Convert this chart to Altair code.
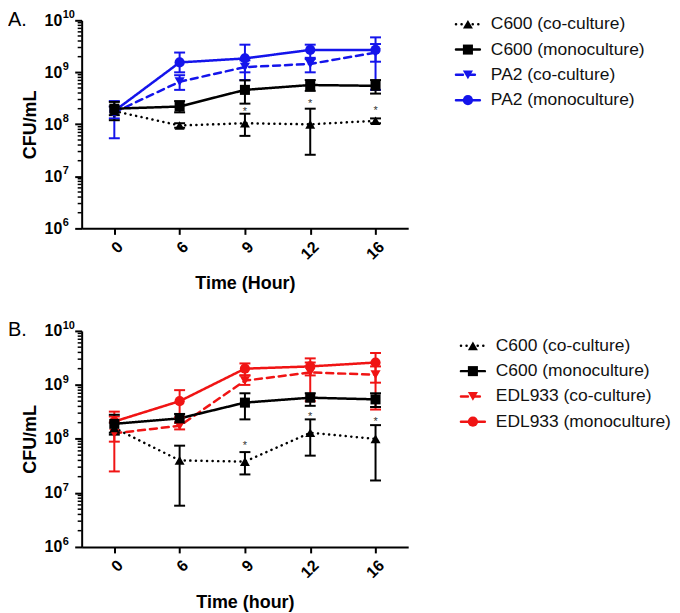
import altair as alt
import pandas as pd

FONT = "Liberation Sans"
times = ["0", "6", "9", "12", "16"]

# ---------------- Panel A ----------------
a_series = ["C600 (co-culture)", "C600 (monoculture)", "PA2 (co-culture)", "PA2 (monoculture)"]
a_c600_co_mean = [1.8e8, 9.5e7, 1.05e8, 1.0e8, 1.17e8]
a_c600_co_lo = [1.5e8, 8.6e7, 6.0e7, 2.6e7, 1.05e8]
a_c600_co_hi = [2.2e8, 1.05e8, 1.6e8, 2.0e8, 1.3e8]
a_c600_mono_mean = [2.0e8, 2.2e8, 4.6e8, 5.7e8, 5.5e8]
a_c600_mono_lo = [1.2e8, 1.7e8, 2.5e8, 4.4e8, 3.9e8]
a_c600_mono_hi = [2.7e8, 2.8e8, 7.0e8, 7.1e8, 7.1e8]
a_pa2_co_mean = [1.7e8, 6.6e8, 1.26e9, 1.45e9, 2.4e9]
a_pa2_co_lo = [1.3e8, 4.6e8, 7.1e8, 1.0e9, 4.6e8]
a_pa2_co_hi = [2.2e8, 8.8e8, 1.7e9, 1.9e9, 3.5e9]
a_pa2_mono_mean = [1.8e8, 1.55e9, 1.85e9, 2.7e9, 2.7e9]
a_pa2_mono_lo = [5.4e7, 1.0e9, 1.0e9, 1.8e9, 1.6e9]
a_pa2_mono_hi = [2.8e8, 2.4e9, 3.4e9, 3.4e9, 4.7e9]
a_star_times = ["9", "12", "16"]
a_star_y = [2.0e8, 2.8e8, 2.1e8]

# ---------------- Panel B ----------------
b_series = ["C600 (co-culture)", "C600 (monoculture)", "EDL933 (co-culture)", "EDL933 (monoculture)"]
b_c600_co_mean = [1.6e8, 4.0e7, 3.8e7, 1.3e8, 1.0e8]
b_c600_co_lo = [1.2e8, 5.8e6, 2.2e7, 4.9e7, 1.7e7]
b_c600_co_hi = [2.0e8, 7.5e7, 5.7e7, 2.3e8, 1.8e8]
b_c600_mono_mean = [1.9e8, 2.4e8, 4.7e8, 5.8e8, 5.4e8]
b_c600_mono_lo = [1.3e8, 2.0e8, 2.3e8, 4.1e8, 3.9e8]
b_c600_mono_hi = [2.8e8, 2.9e8, 7.0e8, 7.0e8, 7.0e8]
b_edl_co_mean = [1.27e8, 1.75e8, 1.2e9, 1.7e9, 1.55e9]
b_edl_co_lo = [8.9e7, 1.5e8, 1.0e9, 5.0e8, 1.1e9]
b_edl_co_hi = [2.6e8, 2.0e8, 1.5e9, 2.6e9, 2.2e9]
b_edl_mono_mean = [2.1e8, 5.0e8, 2.0e9, 2.2e9, 2.6e9]
b_edl_mono_lo = [2.5e7, 2.5e8, 1.5e9, 1.5e9, 3.5e8]
b_edl_mono_hi = [3.2e8, 8.0e8, 2.5e9, 3.1e9, 3.9e9]
b_star_times = ["9", "12", "16"]
b_star_y = [8.5e7, 2.9e8, 2.3e8]

y_major = [1e6, 1e7, 1e8, 1e9, 1e10]
y_exps = ["6", "7", "8", "9", "10"]
y_minor = [m * 10 ** e for e in range(6, 10) for m in range(2, 10)]

SHAPES = ["triangle-up", "square", "triangle-down", "circle"]
DASHES = [[0.1, 5.5], [1, 0], [7, 5], [1, 0]]
SIZES = [100, 105, 100, 125]


def build_df(series, means, los, his):
    rows = []
    # draw coloured strains first so black C600 sits on top
    for idx in [2, 3, 0, 1]:
        for t, m, lo, hi in zip(times, means[idx], los[idx], his[idx]):
            rows.append({"time": t, "series": series[idx], "mean": m, "lo": lo, "hi": hi})
    return pd.DataFrame(rows)


def panel(series, means, los, his, colors, star_t, star_y, tag, xtitle, xtitle_pad, h):
    df = build_df(series, means, los, his)
    x = alt.X("time:O", sort=times,
              scale=alt.Scale(type="point", domain=times, padding=0.5),
              axis=alt.Axis(title=xtitle, labelAngle=-45, labelFontSize=16, labelFontWeight="bold",
                            labelFont=FONT, labelColor="black", labelPadding=4,
                            tickSize=6, tickWidth=2, tickColor="black",
                            domainWidth=2, domainColor="black",
                            titleFontSize=18, titleFontWeight="bold", titleFont=FONT,
                            titleColor="black", titlePadding=xtitle_pad))
    yscale = alt.Scale(type="log", domain=[1e6, 1e10], nice=False)
    yaxis = alt.Axis(title="CFU/mL", values=y_major, labelExpr="'10'", labelFontSize=16,
                     labelFontWeight="bold", labelFont=FONT, labelColor="black", labelPadding=13,
                     tickSize=7, tickWidth=2, tickColor="black", domainWidth=2,
                     domainColor="black", grid=False, titleFontSize=18, titleFontWeight="bold",
                     titleFont=FONT, titleColor="black", titlePadding=5)
    color = alt.Color("series:N", scale=alt.Scale(domain=series, range=colors), legend=None)
    base = alt.Chart(df).encode(x=x, color=color)

    lines = base.mark_line(strokeWidth=2.5, strokeCap="round").encode(
        y=alt.Y("mean:Q", scale=yscale, axis=yaxis),
        strokeDash=alt.StrokeDash("series:N", scale=alt.Scale(domain=series, range=DASHES), legend=None),
    )
    errs = base.mark_rule(strokeWidth=2).encode(y=alt.Y("lo:Q", scale=yscale), y2="hi:Q")
    cap_lo = base.mark_tick(thickness=2, size=11, opacity=1).encode(y=alt.Y("lo:Q", scale=yscale))
    cap_hi = base.mark_tick(thickness=2, size=11, opacity=1).encode(y=alt.Y("hi:Q", scale=yscale))
    pts = base.mark_point(filled=True, opacity=1).encode(
        y=alt.Y("mean:Q", scale=yscale),
        shape=alt.Shape("series:N", scale=alt.Scale(domain=series, range=SHAPES), legend=None),
        size=alt.Size("series:N", scale=alt.Scale(domain=series, range=SIZES), legend=None),
    )
    stars = alt.Chart(pd.DataFrame({"time": star_t, "y": star_y})).mark_text(
        text="*", fontSize=11, font=FONT, color="#333", baseline="middle", dy=3
    ).encode(x=alt.X("time:O", sort=times), y=alt.Y("y:Q", scale=yscale))
    minor = alt.Chart(pd.DataFrame({"v": y_minor})).mark_rule(strokeWidth=1.5, color="black").encode(
        y=alt.Y("v:Q", scale=yscale), x=alt.value(-4), x2=alt.value(0)
    )
    exps = alt.Chart(pd.DataFrame({"v": y_major, "e": y_exps})).mark_text(
        align="left", baseline="middle", fontSize=11, fontWeight="bold", font=FONT, color="black", dy=-5
    ).encode(y=alt.Y("v:Q", scale=yscale), x=alt.value(-19), text="e:N")
    tag_txt = alt.Chart(pd.DataFrame({"t": [tag]})).mark_text(
        align="left", baseline="middle", fontSize=20, font=FONT, color="black"
    ).encode(text="t:N", x=alt.value(-74), y=alt.value(-0.5))

    return alt.layer(lines, errs, cap_lo, cap_hi, pts, stars, minor, exps, tag_txt).properties(
        width=328, height=h
    )


def legend(series, colors, first, step, shift):
    df = pd.DataFrame({"series": series})
    y = alt.Y("series:N", scale=alt.Scale(type="point", domain=series, padding=first / step), axis=None)
    color = alt.Color("series:N", scale=alt.Scale(domain=series, range=colors), legend=None)
    base = alt.Chart(df).encode(y=y)
    seg = base.mark_rule(strokeWidth=2.5, strokeCap="round").encode(
        x=alt.value(8 + shift), x2=alt.value(32 + shift), color=color,
        strokeDash=alt.StrokeDash("series:N", scale=alt.Scale(domain=series, range=DASHES), legend=None),
    )
    pts = base.mark_point(filled=True, opacity=1).encode(
        x=alt.value(20 + shift), color=color,
        shape=alt.Shape("series:N", scale=alt.Scale(domain=series, range=SHAPES), legend=None),
        size=alt.Size("series:N", scale=alt.Scale(domain=series, range=SIZES), legend=None),
    )
    txt = base.mark_text(align="left", baseline="middle", fontSize=17.5, font=FONT, color="#111").encode(
        x=alt.value(43 + shift), text="series:N"
    )
    return alt.layer(seg, pts, txt).properties(width=175, height=3 * step + 2 * first)


a_means = [a_c600_co_mean, a_c600_mono_mean, a_pa2_co_mean, a_pa2_mono_mean]
a_los = [a_c600_co_lo, a_c600_mono_lo, a_pa2_co_lo, a_pa2_mono_lo]
a_his = [a_c600_co_hi, a_c600_mono_hi, a_pa2_co_hi, a_pa2_mono_hi]
b_means = [b_c600_co_mean, b_c600_mono_mean, b_edl_co_mean, b_edl_mono_mean]
b_los = [b_c600_co_lo, b_c600_mono_lo, b_edl_co_lo, b_edl_mono_lo]
b_his = [b_c600_co_hi, b_c600_mono_hi, b_edl_co_hi, b_edl_mono_hi]

a_colors = ["black", "black", "#1414eb", "#1414eb"]
b_colors = ["black", "black", "#f01414", "#f01414"]

rowA = alt.hconcat(
    panel(a_series, a_means, a_los, a_his, a_colors, a_star_times, a_star_y, "A.", "Time (Hour)", 13, 209),
    legend(a_series, a_colors, 4, 25.4, 0), spacing=40,
).resolve_scale(color="independent", shape="independent", size="independent", strokeDash="independent")
rowB = alt.hconcat(
    panel(b_series, b_means, b_los, b_his, b_colors, b_star_times, b_star_y, "B.", "Time (hour)", 13, 217),
    legend(b_series, b_colors, 15, 25.4, 5), spacing=40,
).resolve_scale(color="independent", shape="independent", size="independent", strokeDash="independent")

chart = alt.vconcat(rowA, rowB, spacing=27).resolve_scale(
    color="independent", shape="independent", size="independent", strokeDash="independent"
).properties(padding={"left": 0, "top": 0, "right": 0, "bottom": 0}).configure_view(stroke=None)

chart.save("out.html", embed_options={"renderer": "svg", "actions": False})
